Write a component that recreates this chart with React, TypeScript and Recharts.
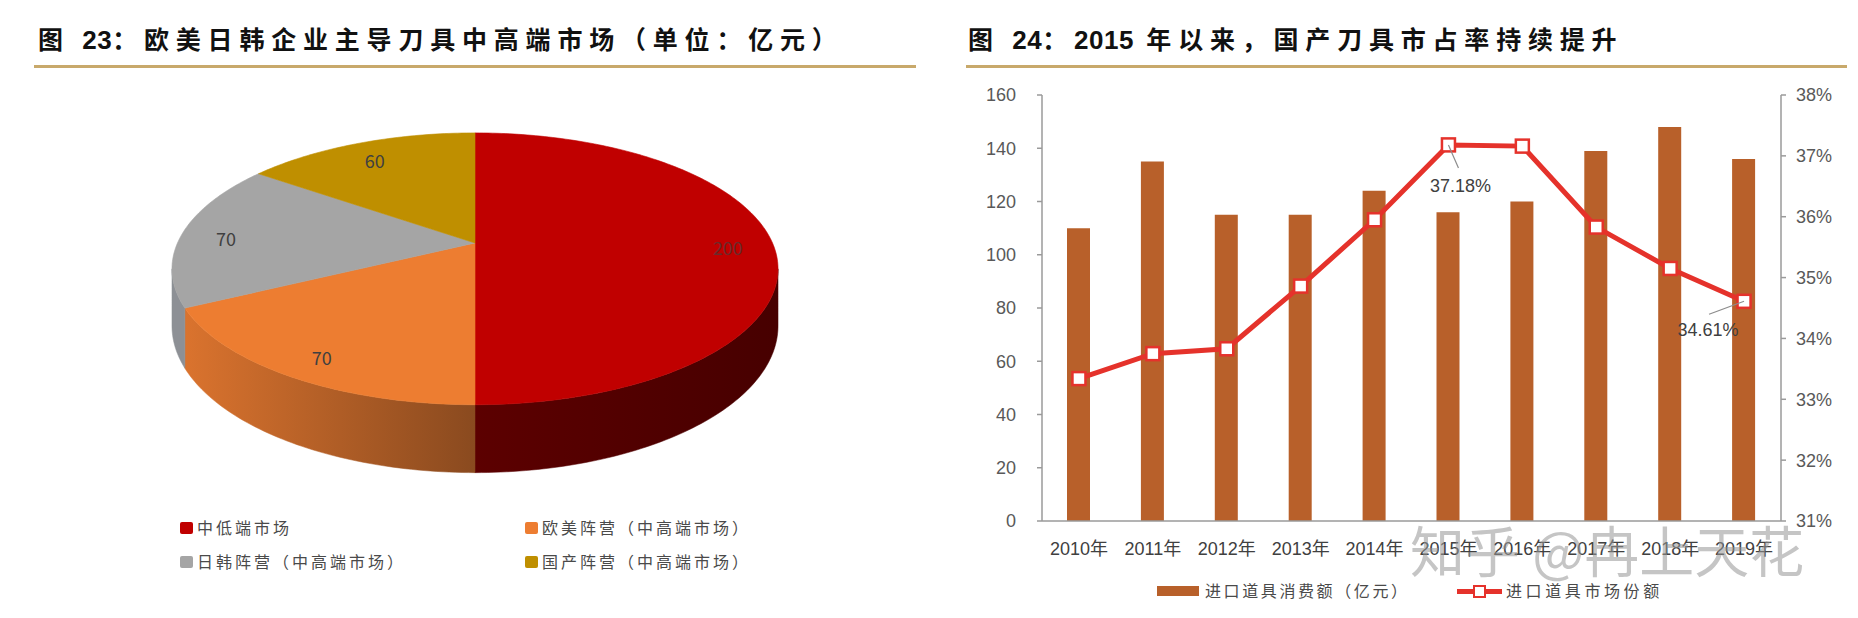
import React from "react";
import {
	PieChart,
	Pie,
	Cell,
	ComposedChart,
	Bar,
	Line,
	XAxis,
	YAxis,
	LabelList,
} from "recharts";

// left: 3D-looking pie
const pieNames = [
	"中低端市场",
	"欧美阵营（中高端市场）",
	"日韩阵营（中高端市场）",
	"国产阵营（中高端市场）",
];
const pieValues = [200, 70, 70, 60];
const pieColors = ["#C00000", "#ED7D31", "#A5A5A5", "#BF8F00"];
const legendOrder = [0, 1, 2, 3];

// right: bars + share line
const years = [
	"2010年",
	"2011年",
	"2012年",
	"2013年",
	"2014年",
	"2015年",
	"2016年",
	"2017年",
	"2018年",
	"2019年",
];
const importSpend = [110, 135, 115, 115, 124, 116, 120, 139, 148, 136];
const importShare = [
	0.3334, 0.3375, 0.3383, 0.3486, 0.3595, 0.3718, 0.3716, 0.3583, 0.3515,
	0.3461,
];
const leftTicks = [0, 20, 40, 60, 80, 100, 120, 140, 160];
const rightTicks = [0.31, 0.32, 0.33, 0.34, 0.35, 0.36, 0.37, 0.38];
const calloutYears = ["2015年", "2019年"];

const BAR = "#B8602A";
const RED_LINE = "#E5322B";
const TEXT = "#404040";
const FONT = "'Liberation Sans', 'Noto Sans CJK SC', sans-serif";
const CJK = "'Noto Sans CJK SC', sans-serif";

const pieData = pieNames.map((name, i) => ({ name, value: pieValues[i] }));
const barData = years.map((year, i) => ({
	year,
	spend: importSpend[i],
	share: importShare[i],
}));

// perspective tilt of the pie
const K = 0.19;
const Y_RATIO = 131 / 297.5;
const DEPTH = 55;
const FRONT_LO = -180 + (Math.asin(K) * 180) / Math.PI;
const FRONT_HI = -(Math.asin(K) * 180) / Math.PI;

function project(cx: number, cy: number, a: number, r: number, deg: number) {
	const t = (deg * Math.PI) / 180;
	const u = Math.cos(t) * r;
	const v = Math.sin(t) * r;
	const d = 1 + K * v;
	return [cx + (a * u) / d, cy - (a * Y_RATIO * v) / d];
}

function arcPoints(cx: number, cy: number, a: number, from: number, to: number, drop = 0) {
	const pts: number[][] = [];
	const steps = Math.max(2, Math.ceil(Math.abs(to - from)));
	for (let s = 0; s <= steps; s++) {
		const deg = from + ((to - from) * s) / steps;
		const [x, y] = project(cx, cy, a, 1, deg);
		const v = Math.sin((deg * Math.PI) / 180);
		pts.push([x, y + (drop ? drop / (1 + K * v) : 0)]);
	}
	return pts;
}

const wallFills = ["url(#wallRed)", "url(#wallOrange)", "#8D9095", "#8A6800"];

function Slice3D(props: any) {
	const { cx, cy, outerRadius, startAngle, endAngle, index, value } = props;
	const a = outerRadius;
	const top = arcPoints(cx, cy, a, startAngle, endAngle);
	const face =
		`M${cx},${cy} ` + top.map((p) => `L${p[0].toFixed(2)},${p[1].toFixed(2)}`).join(" ") + " Z";

	const lo = Math.max(Math.min(startAngle, endAngle), FRONT_LO);
	const hi = Math.min(Math.max(startAngle, endAngle), FRONT_HI);
	let wall = "";
	if (lo < hi) {
		const upper = arcPoints(cx, cy, a, hi, lo);
		const lower = arcPoints(cx, cy, a, lo, hi, DEPTH);
		wall =
			upper.map((p, i) => `${i ? "L" : "M"}${p[0].toFixed(2)},${p[1].toFixed(2)}`).join(" ") +
			" " +
			lower.map((p) => `L${p[0].toFixed(2)},${p[1].toFixed(2)}`).join(" ") +
			" Z";
	}
	const mid = (startAngle + endAngle) / 2;
	const [lx, ly] = project(cx, cy, a, 0.85, mid);
	return (
		<g>
			{index === 0 && (
				<defs>
					<linearGradient id="wallRed" x1="0" y1="0" x2="1" y2="0">
						<stop offset="0%" stopColor="#5C0000" />
						<stop offset="100%" stopColor="#470000" />
					</linearGradient>
					<linearGradient id="wallOrange" x1="0" y1="0" x2="1" y2="0">
						<stop offset="0%" stopColor="#DA732E" />
						<stop offset="100%" stopColor="#8A4A1F" />
					</linearGradient>
				</defs>
			)}
			{wall && <path d={wall} fill={wallFills[index]} stroke={wallFills[index]} strokeWidth={0.5} />}
			<path d={face} fill={pieColors[index]} stroke={pieColors[index]} strokeWidth={0.6} />
			<text
				x={lx}
				y={ly + 4}
				textAnchor="middle"
				dominantBaseline="central"
				fontSize={18}
				fontFamily={CJK}
				fill={index === 0 ? "#6A2B2B" : TEXT}
			>
				{value}
			</text>
		</g>
	);
}

function SquareDot(props: any) {
	const { cx, cy, index } = props;
	if (cx == null || cy == null) return null;
	return (
		<rect
			key={`dot-${index}`}
			x={cx - 6.5}
			y={cy - 6.5}
			width={13}
			height={13}
			fill="#fff"
			stroke={RED_LINE}
			strokeWidth={2.5}
		/>
	);
}

// where the callout text sits relative to its point
const calloutOffset: Record<string, { dx: number; dy: number; lx: number; ly: number }> = {
	"2015年": { dx: 12, dy: 41, lx: 10, ly: 23 },
	"2019年": { dx: -36, dy: 29, lx: -35, ly: 13 },
};

function Callout(props: any) {
	const { x, y, value, index } = props;
	const year = years[index];
	if (!calloutYears.includes(year)) return null;
	const o = calloutOffset[year];
	return (
		<g>
			<line x1={x} y1={y} x2={x + o.lx} y2={y + o.ly} stroke="#8c8c8c" strokeWidth={1.2} />
			<text
				x={x + o.dx}
				y={y + o.dy}
				textAnchor="middle"
				dominantBaseline="central"
				fontSize={18}
				fontFamily={FONT}
				fill={TEXT}
			>
				{(value * 100).toFixed(2)}%
			</text>
		</g>
	);
}

const titleStyle: React.CSSProperties = {
	position: "absolute",
	top: 21,
	fontFamily: CJK,
	fontWeight: 700,
	fontSize: 25,
	letterSpacing: 6.8,
	lineHeight: "34px",
	color: "#111",
	whiteSpace: "nowrap",
};

// digits in the titles are set tight
const tight: React.CSSProperties = { letterSpacing: 0.5, fontFamily: FONT, fontSize: 26 };

const legendText: React.CSSProperties = {
	position: "absolute",
	fontFamily: CJK,
	fontSize: 16,
	letterSpacing: 3,
	color: "#4a4a4a",
	lineHeight: "20px",
	whiteSpace: "nowrap",
};

export default function App() {
	const pieLegendPos = [
		{ x: 180, y: 528 },
		{ x: 525, y: 528 },
		{ x: 180, y: 562 },
		{ x: 525, y: 562 },
	];
	return (
		<div
			style={{
				position: "absolute",
				left: 0,
				top: 0,
				width: 1858,
				height: 618,
				background: "#fff",
				overflow: "hidden",
			}}
		>
			<div style={{ ...titleStyle, left: 38 }}>
				图 <span style={tight}>23</span>：欧美日韩企业主导刀具中高端市场（单位：亿元）
			</div>
			<div style={{ ...titleStyle, left: 968 }}>
				图 <span style={tight}>24</span>：<span style={tight}>2015</span> 年以来，国产刀具市占率持续提升
			</div>
			<div style={{ position: "absolute", left: 34, top: 65, width: 882, height: 3, background: "#C8A96B" }} />
			<div style={{ position: "absolute", left: 966, top: 65, width: 881, height: 3, background: "#C8A96B" }} />

			<div style={{ position: "absolute", left: 0, top: 80 }}>
				<PieChart width={930} height={420} margin={{ top: 0, right: 0, bottom: 0, left: 0 }}>
					<Pie
						data={pieData}
						dataKey="value"
						nameKey="name"
						cx={475}
						cy={163}
						outerRadius={297.5}
						startAngle={90}
						endAngle={-270}
						stroke="none"
						labelLine={false}
						label={Slice3D}
						isAnimationActive={false}
					>
						{pieData.map((d, i) => (
							<Cell key={d.name} fill={pieColors[i]} fillOpacity={0} />
						))}
					</Pie>
				</PieChart>
			</div>

			{legendOrder.map((i) => (
				<React.Fragment key={pieNames[i]}>
					<div
						style={{
							position: "absolute",
							left: pieLegendPos[i].x,
							top: pieLegendPos[i].y - 6,
							width: 13,
							height: 12,
							borderRadius: 2,
							background: pieColors[i],
						}}
					/>
					<div style={{ ...legendText, left: pieLegendPos[i].x + 17, top: pieLegendPos[i].y - 11 }}>
						{pieNames[i]}
					</div>
				</React.Fragment>
			))}

			<div style={{ position: "absolute", left: 930, top: 80 }}>
				<ComposedChart
					width={928}
					height={538}
					data={barData}
					margin={{ top: 15, right: 0, bottom: 57, left: 0 }}
				>
					<XAxis
						dataKey="year"
						interval={0}
						height={40}
						tickLine={false}
						tickMargin={15}
						axisLine={{ stroke: "#9a9a9a", strokeWidth: 1.5 }}
						tick={{ fontSize: 18, fill: TEXT, fontFamily: FONT }}
					/>
					<YAxis
						yAxisId="left"
						width={112}
						domain={[0, 160]}
						ticks={leftTicks}
						interval={0}
						tickSize={5}
						tickMargin={21}
						axisLine={{ stroke: "#9a9a9a", strokeWidth: 1.5 }}
						tickLine={{ stroke: "#9a9a9a", strokeWidth: 1.5 }}
						tick={{ fontSize: 18, fill: "#595959", fontFamily: FONT }}
					/>
					<YAxis
						yAxisId="right"
						orientation="right"
						width={77}
						domain={[0.31, 0.38]}
						ticks={rightTicks}
						interval={0}
						tickSize={5}
						tickMargin={10}
						tickFormatter={(v: number) => `${Math.round(v * 100)}%`}
						axisLine={{ stroke: "#9a9a9a", strokeWidth: 1.5 }}
						tickLine={{ stroke: "#9a9a9a", strokeWidth: 1.5 }}
						tick={{ fontSize: 18, fill: "#595959", fontFamily: FONT }}
					/>
					<Bar yAxisId="left" dataKey="spend" fill={BAR} barSize={23} isAnimationActive={false} />
					<Line
						yAxisId="right"
						dataKey="share"
						stroke={RED_LINE}
						strokeWidth={5}
						dot={SquareDot}
						activeDot={false}
						isAnimationActive={false}
					>
						<LabelList dataKey="share" content={Callout} />
					</Line>
				</ComposedChart>
			</div>

			{/* legend of the right chart */}
			<div style={{ position: "absolute", left: 1157, top: 586, width: 42, height: 10, background: BAR }} />
			<div style={{ ...legendText, left: 1205, top: 580, letterSpacing: 2.6 }}>进口道具消费额（亿元）</div>
			<div style={{ position: "absolute", left: 1457, top: 589, width: 45, height: 5, background: RED_LINE }} />
			<div
				style={{
					position: "absolute",
					left: 1473,
					top: 585,
					width: 9,
					height: 9,
					background: "#fff",
					border: `2px solid ${RED_LINE}`,
				}}
			/>
			<div style={{ ...legendText, left: 1506, top: 580, letterSpacing: 3.6 }}>进口道具市场份额</div>

			{/* watermark */}
			<div
				style={{
					position: "absolute",
					left: 1410,
					top: 516,
					fontFamily: CJK,
					fontSize: 55,
					lineHeight: "64px",
					color: "rgba(150,150,150,0.55)",
					whiteSpace: "nowrap",
				}}
			>
				知乎 @冉上天花
			</div>
		</div>
	);
}
